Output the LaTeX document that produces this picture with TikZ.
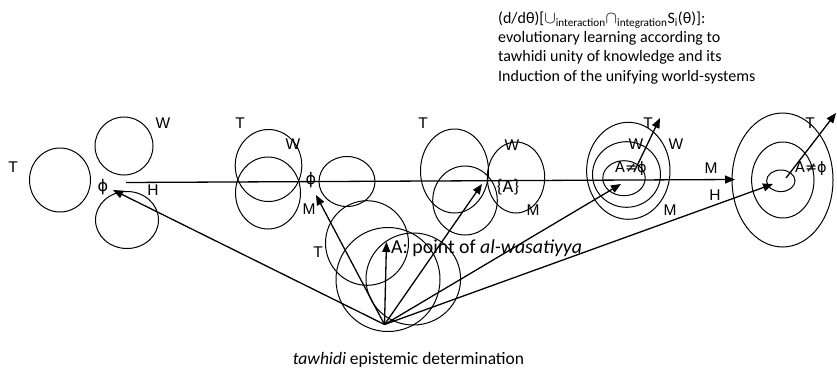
\documentclass[tikz,border=0pt]{standalone}
\usepackage{fontspec}
\setmainfont{Carlito}
\newfontfamily\arialf{Liberation Sans}
\newfontfamily\dejavu{DejaVu Sans}
\usetikzlibrary{arrows.meta}
\begin{document}
\begin{tikzpicture}[x=1pt,y=-1pt,
  ring/.style={draw=black,line width=1pt},
  arr/.style={draw=black,line width=1.3pt,-{Triangle[length=10pt,width=8pt]}},
  lbl/.style={inner sep=0pt,font=\arialf\fontsize{15.5}{18}\selectfont},
  sym/.style={inner sep=0pt,font=\fontsize{17}{18}\selectfont},
  phil/.style={inner sep=0pt,font=\dejavu\fontsize{16}{18}\selectfont},
  ttl/.style={inner sep=0pt,anchor=base west,font=\fontsize{16}{19}\selectfont},
]
\useasboundingbox (0,0) rectangle (837,369);

% ---------- group 1
\draw[ring] (60,180) ellipse [x radius=30.5pt, y radius=32pt];
\draw[ring] (124,146) ellipse [x radius=29pt, y radius=29pt];
\draw[ring] (127,220) ellipse [x radius=31.5pt, y radius=28.5pt];
\node[lbl] (T1) at (13,167) {T};
\node[lbl] (W1) at (163,123) {W};
\node[phil] (P1) at (103,187) {ϕ};
\node[lbl] (H1) at (153,190) {H};

% ---------- group 2
\draw[ring] (268.5,165.5) ellipse [x radius=33.3pt, y radius=36pt];
\draw[ring] (268,193) ellipse [x radius=32.5pt, y radius=36pt];
\draw[ring] (347,181.5) ellipse [x radius=28pt, y radius=25pt];
\node[lbl] (T2) at (240,123) {T};
\node[lbl] (W2) at (293,144) {W};
\node[phil] (P2) at (311,180) {ϕ};
\node[lbl] (M2) at (309,209) {M};

% ---------- group 3
\draw[ring] (454.5,171) ellipse [x radius=34pt, y radius=42pt];
\draw[ring] (465,200.5) ellipse [x radius=32.3pt, y radius=34.5pt];
\draw[ring] (516,177.5) ellipse [x radius=28.7pt, y radius=35.5pt];
\node[lbl] (T3) at (423,123) {T};
\node[lbl] (W3) at (512,145) {W};
\node[sym,font=\fontsize{18.5}{20}\selectfont] (A3) at (508,187) {\{A\}};
\node[lbl] (M3) at (533,210) {M};

% ---------- group 4
\draw[ring] (628.3,170.8) ellipse [x radius=41.7pt, y radius=48.5pt];
\draw[ring] (626.5,174.5) ellipse [x radius=34pt, y radius=32.8pt];
\draw[ring] (624,178.2) ellipse [x radius=21.2pt, y radius=17.5pt];
\node[lbl] (T4) at (648,123) {T};
\node[lbl] (W4a) at (636,144) {W};
\node[lbl] (W4b) at (676,144) {W};
\node[sym] (A4) at (631,168) {A{\dejavu\fontsize{14.5}{16}\selectfont ≠ϕ}};
\node[lbl] (M4) at (670,210) {M};

% ---------- group 5
\draw[ring] (782.5,180) ellipse [x radius=50.5pt, y radius=67pt];
\draw[ring] (782.8,180) ellipse [x radius=31.2pt, y radius=38pt];
\draw[ring] (780.8,180.8) ellipse [x radius=14.2pt, y radius=10.8pt];
\node[lbl] (T5) at (810,123) {T};
\node[sym] (A5) at (811,168) {A{\dejavu\fontsize{14.5}{16}\selectfont ≠ϕ}};
\node[lbl] (M5) at (711,168) {M};
\node[lbl] (H5) at (715,195) {H};

% ---------- bottom group
\draw[ring] (367,243) ellipse [x radius=41.5pt, y radius=42.3pt];
\draw[ring] (388,279.5) ellipse [x radius=52pt, y radius=52pt];
\draw[ring] (413.3,279) ellipse [x radius=47.3pt, y radius=46pt];
\node[lbl] (T6) at (318,252) {T};
\node[inner sep=0pt,anchor=base west,font=\fontsize{19.8}{22}\selectfont] (AL) at (391,253) {A: point of \textit{al-wasatiyya}};

% ---------- connectors
\coordinate (O) at (384.5,324.5);
\coordinate (tp1) at (113,190);
\coordinate (tp2) at (316,195);
\coordinate (tpA) at (386.5,242);
\coordinate (tp3) at (482,184);
\coordinate (tp4) at (621,184);
\coordinate (tp5) at (773,184);
\coordinate (hs) at (126,182.5);
\coordinate (he) at (735,179.5);
\coordinate (g4s) at (634,172);
\coordinate (g4e) at (660,118);
\coordinate (g5s) at (786,178);
\coordinate (g5e) at (836,113);

\draw[arr] (hs) -- (he);
\draw[arr] (O) -- (tp1);
\draw[arr] (O) -- (tp2);
\draw[arr] (O) -- (tpA);
\draw[arr] (O) -- (tp3);
\draw[arr] (O) -- (tp4);
\draw[arr] (O) -- (tp5);
\draw[arr] (g4s) -- (g4e);
\draw[arr] (g5s) -- (g5e);

% ---------- texts
\node[ttl] (ti1) at (498,23.5) {(d/dθ)[$\cup$\textsubscript{interaction}$\cap$\textsubscript{integration}S\textsubscript{i}(θ)]:};
\node[ttl] (ti2) at (498,43) {evolutionary learning according to};
\node[ttl] (ti3) at (498,62) {tawhidi unity of knowledge and its};
\node[ttl] (ti4) at (498,81.5) {Induction of the unifying world-systems};
\node[inner sep=0pt,anchor=base,font=\fontsize{17.5}{20}\selectfont] (bt) at (408.5,364) {\textit{tawhidi} epistemic determination};
\end{tikzpicture}
\end{document}
